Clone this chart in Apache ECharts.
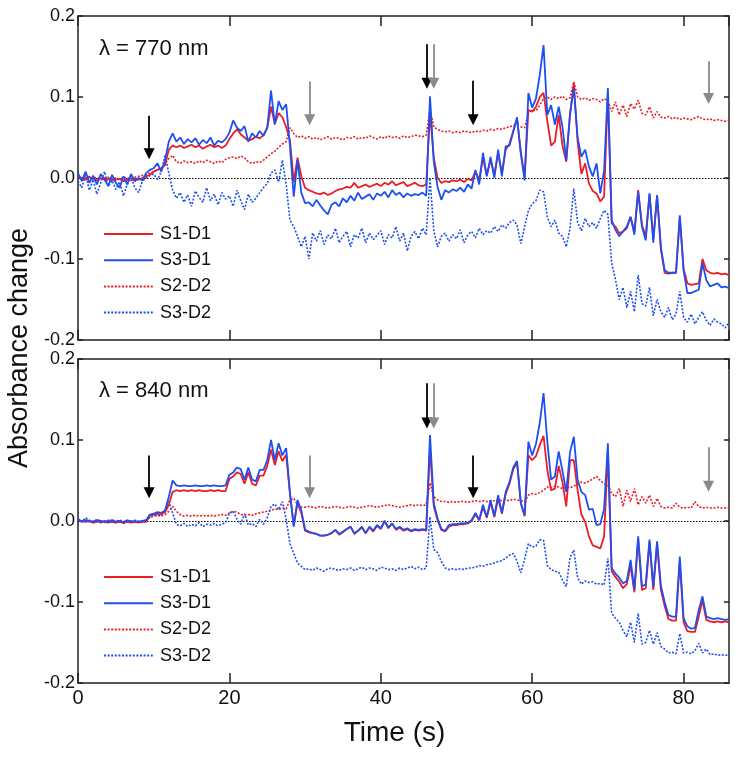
<!DOCTYPE html>
<html>
<head>
<meta charset="utf-8">
<script src="https://cdn.jsdelivr.net/npm/echarts@6/dist/echarts.min.js"></script>
<style>
html,body{margin:0;padding:0;background:#fff;}
#chart{width:738px;height:757px;}
</style>
</head>
<body>
<div id="chart"></div>
<script>
// Shared time axis (s)
const time = [
0,0.5,1,1.5,2,2.5,3,3.5,4,4.5,5,5.5,6,6.5,7,7.5,8,8.5,9,9.5,
10,10.5,11,11.5,12,12.5,13,13.5,14,14.5,15,15.5,16,16.5,17,17.5,18,18.5,19,19.5,
20,20.5,21,21.5,22,22.5,23,23.5,24,24.5,25,25.5,26,26.5,27,27.5,28,28.5,29,29.5,
30,30.5,31,31.5,32,32.5,33,33.5,34,34.5,35,35.5,36,36.5,37,37.5,38,38.5,39,39.5,
40,40.5,41,41.5,42,42.5,43,43.5,44,44.5,45,45.5,46,46.5,47,47.5,48,48.5,49,49.5,
50,50.5,51,51.5,52,52.5,53,53.5,54,54.5,55,55.5,56,56.5,57,57.5,58,58.5,59,59.5,
60,60.5,61,61.5,62,62.5,63,63.5,64,64.5,65,65.5,66,66.5,67,67.5,68,68.5,69,69.5,
70,70.5,71,71.5,72,72.5,73,73.5,74,74.5,75,75.5,76,76.5,77,77.5,78,78.5,79,79.5,
80,80.5,81,81.5,82,82.5,83,83.5,84,84.5,85,85.5,86];

// ---- lambda = 770 nm (top panel) ----
const top_S1D1 = [
0.002,0.000,-0.002,0.001,-0.001,-0.003,0.000,-0.002,-0.001,-0.003,
-0.002,-0.001,-0.004,-0.002,-0.003,-0.001,-0.002,0.000,0.002,0.004,
0.008,0.010,0.012,0.016,0.035,0.040,0.038,0.040,0.037,0.039,
0.041,0.038,0.040,0.036,0.039,0.041,0.038,0.040,0.037,0.040,
0.048,0.055,0.060,0.054,0.050,0.046,0.048,0.051,0.049,0.053,
0.062,0.088,0.067,0.080,0.075,0.063,0.047,-0.005,0.025,0.002,
-0.012,-0.015,-0.017,-0.019,-0.020,-0.018,-0.021,-0.019,-0.016,-0.014,
-0.013,-0.011,-0.012,-0.006,-0.012,-0.010,-0.008,-0.011,-0.009,-0.007,
-0.010,-0.006,-0.008,-0.004,-0.009,-0.007,-0.005,-0.010,-0.008,-0.006,
-0.009,-0.010,-0.008,0.080,0.025,0.000,-0.006,-0.004,-0.005,-0.003,
-0.004,-0.002,-0.005,-0.001,-0.003,0.008,-0.002,0.025,0.003,0.022,
0.004,0.030,0.006,0.035,0.042,0.058,0.073,0.032,0.001,0.084,
0.082,0.088,0.100,0.105,0.070,0.040,0.045,0.078,0.040,0.020,
0.078,0.117,0.045,0.005,0.018,-0.007,-0.016,-0.019,-0.029,-0.023,
0.105,-0.056,-0.060,-0.068,-0.066,-0.062,-0.048,-0.066,-0.015,-0.058,
-0.072,-0.020,-0.075,-0.022,-0.088,-0.117,-0.118,-0.117,-0.117,-0.048,
-0.112,-0.130,-0.132,-0.131,-0.130,-0.100,-0.114,-0.117,-0.118,-0.117,
-0.119,-0.118,-0.120];

const top_S3D1 = [
0.006,-0.004,0.008,-0.006,0.003,-0.008,0.005,-0.002,-0.010,0.004,
-0.006,-0.012,0.002,-0.008,0.005,-0.004,0.000,-0.003,0.006,0.010,
0.012,0.018,0.008,0.022,0.045,0.055,0.045,0.050,0.042,0.048,
0.044,0.049,0.041,0.047,0.043,0.050,0.040,0.046,0.044,0.048,
0.056,0.071,0.062,0.058,0.064,0.045,0.055,0.050,0.058,0.052,
0.062,0.108,0.066,0.095,0.084,0.091,0.039,-0.023,0.022,-0.018,
-0.031,-0.030,-0.035,-0.027,-0.034,-0.040,-0.045,-0.033,-0.030,-0.035,
-0.025,-0.030,-0.022,-0.028,-0.018,-0.026,-0.023,-0.020,-0.027,-0.019,
-0.022,-0.017,-0.024,-0.015,-0.021,-0.018,-0.024,-0.019,-0.022,-0.020,
-0.021,-0.018,-0.022,0.101,0.020,-0.011,-0.027,-0.015,-0.018,-0.014,
-0.016,-0.012,-0.017,-0.008,-0.013,0.010,-0.008,0.031,0.002,0.026,
0.000,0.035,0.002,0.039,0.040,0.057,0.075,0.030,-0.003,0.105,
0.087,0.098,0.127,0.164,0.078,0.090,0.066,0.088,0.063,0.022,
0.080,0.111,0.050,0.026,0.035,0.014,0.002,0.018,-0.019,0.009,
0.111,-0.052,-0.064,-0.072,-0.066,-0.060,-0.048,-0.070,-0.017,-0.060,
-0.077,-0.019,-0.080,-0.021,-0.085,-0.114,-0.117,-0.117,-0.117,-0.046,
-0.114,-0.142,-0.142,-0.140,-0.138,-0.105,-0.126,-0.134,-0.132,-0.130,
-0.135,-0.134,-0.136];

const top_S2D2 = [
0.001,-0.001,0.000,0.002,-0.001,0.001,-0.002,0.000,0.001,-0.001,
0.000,-0.002,0.001,0.000,-0.001,0.001,0.002,0.003,0.004,0.006,
0.008,0.010,0.012,0.018,0.024,0.028,0.020,0.018,0.021,0.019,
0.020,0.018,0.021,0.019,0.022,0.020,0.018,0.021,0.019,0.023,
0.025,0.026,0.024,0.027,0.025,0.020,0.018,0.020,0.019,0.022,
0.026,0.030,0.033,0.038,0.042,0.045,0.062,0.055,0.050,0.052,
0.049,0.051,0.048,0.050,0.047,0.049,0.051,0.048,0.050,0.049,
0.047,0.050,0.049,0.051,0.048,0.050,0.049,0.052,0.050,0.048,
0.051,0.049,0.052,0.050,0.051,0.049,0.052,0.050,0.051,0.053,
0.052,0.051,0.053,0.085,0.063,0.060,0.058,0.057,0.058,0.056,
0.057,0.056,0.058,0.057,0.056,0.058,0.057,0.059,0.058,0.060,
0.059,0.061,0.060,0.062,0.063,0.065,0.064,0.063,0.062,0.080,
0.084,0.083,0.090,0.098,0.100,0.097,0.100,0.098,0.101,0.097,
0.099,0.119,0.100,0.097,0.099,0.096,0.098,0.097,0.094,0.098,
0.095,0.082,0.094,0.078,0.090,0.076,0.092,0.085,0.096,0.080,
0.078,0.088,0.074,0.082,0.075,0.074,0.076,0.073,0.075,0.072,
0.074,0.073,0.072,0.074,0.076,0.073,0.072,0.073,0.071,0.072,
0.071,0.070,0.071];

const top_S3D2 = [
-0.004,-0.012,0.005,-0.015,-0.002,-0.020,-0.006,0.008,-0.010,-0.003,
-0.014,-0.005,-0.022,-0.008,0.002,-0.012,-0.018,-0.004,0.000,0.003,
0.005,-0.002,0.008,0.028,0.006,-0.015,-0.025,-0.018,-0.030,-0.021,
-0.035,-0.016,-0.024,-0.030,-0.012,-0.028,-0.020,-0.033,-0.018,-0.026,
-0.022,-0.035,-0.015,-0.028,-0.039,-0.020,-0.030,-0.025,-0.018,-0.012,
-0.007,0.006,0.010,-0.005,0.022,-0.008,-0.052,-0.060,-0.072,-0.085,
-0.072,-0.100,-0.068,-0.078,-0.065,-0.082,-0.070,-0.075,-0.062,-0.080,
-0.072,-0.066,-0.085,-0.070,-0.074,-0.062,-0.080,-0.068,-0.076,-0.071,
-0.065,-0.082,-0.070,-0.074,-0.060,-0.078,-0.068,-0.090,-0.072,-0.066,
-0.075,-0.062,-0.070,0.000,-0.065,-0.085,-0.072,-0.068,-0.078,-0.070,
-0.075,-0.064,-0.080,-0.070,-0.066,-0.074,-0.062,-0.070,-0.065,-0.068,
-0.060,-0.066,-0.058,-0.062,-0.055,-0.052,-0.058,-0.081,-0.060,-0.040,
-0.032,-0.028,-0.015,-0.017,-0.048,-0.060,-0.052,-0.068,-0.072,-0.085,
-0.062,-0.013,-0.055,-0.065,-0.050,-0.060,-0.055,-0.062,-0.050,-0.040,
-0.045,-0.105,-0.125,-0.150,-0.135,-0.160,-0.140,-0.165,-0.120,-0.155,
-0.158,-0.135,-0.170,-0.150,-0.165,-0.172,-0.160,-0.175,-0.168,-0.140,
-0.172,-0.178,-0.168,-0.180,-0.172,-0.165,-0.176,-0.182,-0.174,-0.178,
-0.180,-0.185,-0.178];

// ---- lambda = 840 nm (bottom panel) ----
const bot_S1D1 = [
0.001,0.000,-0.001,0.000,-0.002,-0.001,0.000,-0.001,-0.002,-0.001,
-0.002,-0.001,-0.002,-0.001,-0.002,-0.001,-0.002,-0.001,-0.001,0.007,
0.008,0.009,0.008,0.011,0.020,0.036,0.038,0.037,0.038,0.037,
0.038,0.037,0.038,0.037,0.037,0.038,0.037,0.038,0.037,0.037,
0.052,0.055,0.060,0.058,0.046,0.060,0.046,0.044,0.056,0.056,
0.068,0.088,0.069,0.086,0.074,0.082,0.034,-0.005,0.022,0.010,
-0.012,-0.014,-0.015,-0.016,-0.018,-0.018,-0.017,-0.015,-0.011,-0.017,
-0.014,-0.010,-0.007,-0.016,-0.012,-0.008,-0.015,-0.008,-0.013,-0.006,
-0.010,0.000,-0.009,-0.003,-0.011,-0.008,-0.012,-0.010,-0.013,-0.011,
-0.012,-0.011,-0.012,0.090,0.018,0.001,-0.011,-0.013,-0.007,-0.005,
-0.005,-0.004,-0.004,-0.003,0.000,0.008,0.001,0.017,0.004,0.023,
0.005,0.028,0.009,0.033,0.046,0.064,0.072,0.022,0.006,0.081,
0.075,0.080,0.094,0.105,0.063,0.038,0.040,0.068,0.048,0.018,
0.075,0.075,0.038,0.008,-0.001,-0.019,-0.030,-0.032,-0.034,-0.019,
0.085,-0.062,-0.069,-0.075,-0.083,-0.078,-0.055,-0.088,-0.022,-0.085,
-0.083,-0.026,-0.085,-0.028,-0.085,-0.105,-0.121,-0.123,-0.123,-0.050,
-0.125,-0.136,-0.137,-0.137,-0.118,-0.098,-0.122,-0.124,-0.125,-0.124,
-0.125,-0.124,-0.125];

const bot_S3D1 = [
0.002,-0.001,0.001,0.000,-0.001,0.001,-0.002,0.000,-0.001,0.001,
-0.001,0.000,-0.002,0.001,-0.001,0.000,-0.001,0.000,0.001,0.008,
0.009,0.011,0.010,0.013,0.030,0.050,0.044,0.043,0.044,0.043,
0.043,0.044,0.043,0.043,0.044,0.043,0.044,0.043,0.043,0.044,
0.057,0.060,0.066,0.064,0.051,0.066,0.051,0.049,0.063,0.063,
0.075,0.100,0.075,0.096,0.081,0.090,0.034,-0.007,0.026,0.013,
-0.011,-0.013,-0.015,-0.016,-0.018,-0.018,-0.017,-0.015,-0.011,-0.016,
-0.013,-0.010,-0.007,-0.015,-0.012,-0.007,-0.015,-0.007,-0.012,-0.005,
-0.009,0.000,-0.008,-0.003,-0.010,-0.007,-0.011,-0.009,-0.012,-0.010,
-0.011,-0.010,-0.011,0.106,0.022,0.003,-0.010,-0.012,-0.005,-0.004,
-0.004,-0.003,-0.003,-0.002,0.001,0.010,0.001,0.020,0.005,0.026,
0.006,0.032,0.010,0.036,0.048,0.066,0.074,0.022,0.007,0.098,
0.081,0.095,0.121,0.158,0.098,0.051,0.055,0.086,0.062,0.036,
0.085,0.104,0.051,0.036,0.032,0.014,0.015,-0.005,-0.004,0.015,
0.096,-0.058,-0.065,-0.070,-0.077,-0.074,-0.048,-0.085,-0.019,-0.081,
-0.078,-0.023,-0.081,-0.025,-0.080,-0.100,-0.116,-0.118,-0.118,-0.044,
-0.120,-0.130,-0.133,-0.132,-0.110,-0.093,-0.118,-0.120,-0.121,-0.120,
-0.121,-0.122,-0.121];

const bot_S2D2 = [
0.001,0.000,0.001,-0.001,0.000,0.001,0.000,-0.001,0.000,0.001,
0.000,0.001,0.000,-0.001,0.000,0.001,0.000,0.000,0.001,0.004,
0.006,0.007,0.006,0.008,0.012,0.018,0.012,0.008,0.006,0.007,
0.006,0.007,0.006,0.007,0.006,0.007,0.006,0.007,0.008,0.007,
0.010,0.012,0.011,0.008,0.007,0.008,0.007,0.009,0.010,0.011,
0.012,0.013,0.015,0.014,0.016,0.015,0.026,0.028,0.020,0.017,
0.017,0.018,0.017,0.016,0.018,0.017,0.016,0.017,0.018,0.017,
0.016,0.017,0.018,0.017,0.016,0.017,0.018,0.019,0.018,0.017,
0.018,0.019,0.020,0.019,0.018,0.017,0.018,0.019,0.020,0.019,
0.020,0.019,0.020,0.047,0.030,0.026,0.024,0.024,0.023,0.024,
0.023,0.024,0.024,0.023,0.024,0.025,0.024,0.025,0.024,0.025,
0.025,0.026,0.025,0.026,0.025,0.027,0.026,0.025,0.024,0.032,
0.034,0.033,0.035,0.038,0.042,0.041,0.043,0.042,0.040,0.042,
0.041,0.043,0.046,0.048,0.047,0.049,0.052,0.055,0.050,0.046,
0.044,0.034,0.030,0.040,0.018,0.038,0.024,0.040,0.020,0.030,
0.022,0.032,0.018,0.028,0.018,0.016,0.017,0.016,0.022,0.017,
0.016,0.017,0.016,0.024,0.018,0.016,0.017,0.016,0.016,0.017,
0.016,0.016,0.017];

const bot_S3D2 = [
0.003,-0.001,0.004,0.001,-0.002,0.002,0.000,-0.002,0.001,-0.001,
-0.002,0.001,-0.003,-0.001,0.000,-0.002,-0.001,-0.002,0.000,0.005,
0.008,0.006,0.010,0.012,0.024,0.010,-0.004,-0.006,-0.003,-0.007,
-0.004,-0.006,-0.002,-0.007,-0.004,-0.005,-0.003,-0.006,-0.004,-0.002,
0.010,0.012,0.002,-0.004,0.009,-0.005,-0.003,-0.007,0.002,-0.004,
0.004,0.018,0.021,0.014,0.024,0.002,-0.028,-0.040,-0.052,-0.056,
-0.060,-0.059,-0.061,-0.058,-0.060,-0.062,-0.059,-0.058,-0.060,-0.061,
-0.059,-0.060,-0.058,-0.061,-0.059,-0.057,-0.060,-0.058,-0.059,-0.061,
-0.057,-0.058,-0.060,-0.059,-0.061,-0.058,-0.060,-0.058,-0.056,-0.059,
-0.057,-0.060,-0.058,0.005,-0.035,-0.039,-0.050,-0.058,-0.060,-0.059,
-0.060,-0.059,-0.060,-0.058,-0.058,-0.057,-0.055,-0.056,-0.054,-0.053,
-0.052,-0.050,-0.049,-0.046,-0.042,-0.040,-0.050,-0.064,-0.047,-0.028,
-0.032,-0.031,-0.023,-0.024,-0.055,-0.060,-0.062,-0.063,-0.073,-0.081,
-0.045,-0.036,-0.070,-0.078,-0.074,-0.076,-0.075,-0.078,-0.077,-0.079,
-0.046,-0.114,-0.120,-0.125,-0.135,-0.143,-0.125,-0.150,-0.114,-0.152,
-0.150,-0.135,-0.152,-0.138,-0.155,-0.158,-0.163,-0.162,-0.164,-0.139,
-0.163,-0.162,-0.164,-0.160,-0.151,-0.163,-0.158,-0.165,-0.164,-0.166,
-0.165,-0.166,-0.165];

// Arrow annotations (time, start value, tip value)
const arrowTimes = [9.4, 30.6, 46.1, 47.0, 52.2, 83.3];
const arrowGray  = [false, true, false, true, false, true];
const topArrowFrom = [0.077, 0.119, 0.165, 0.165, 0.120, 0.144];
const topArrowTo   = [0.030, 0.072, 0.117, 0.117, 0.072, 0.098];
const botArrowFrom = [0.081, 0.081, 0.170, 0.170, 0.081, 0.091];
const botArrowTo   = [0.035, 0.035, 0.121, 0.121, 0.035, 0.043];

const seriesNames = ['S1-D1', 'S3-D1', 'S2-D2', 'S3-D2'];
const RED = '#ec1c24';
const BLUE = '#1e4ff0';
const FONT = 'Liberation Sans, Arial, Helvetica, sans-serif';

const pairs = (vals) => time.map((t, i) => [t, vals[i]]);

function traces(xi, yi, s1, s3, s2, s3b) {
  const mk = (name, vals, color, dotted) => ({
    name, type: 'line', xAxisIndex: xi, yAxisIndex: yi,
    data: pairs(vals), showSymbol: false, symbol: 'none', animation: false,
    lineStyle: { color, width: dotted ? 1.6 : 1.8, type: dotted ? [2, 1.6] : 'solid' },
    itemStyle: { color }, z: dotted ? 3 : 4
  });
  return [
    mk('S2-D2', s2, RED, true),
    mk('S3-D2', s3b, BLUE, true),
    mk('S1-D1', s1, RED, false),
    mk('S3-D1', s3, BLUE, false)
  ];
}

function arrows(xi, yi, from, to) {
  return {
    type: 'lines', coordinateSystem: 'cartesian2d', xAxisIndex: xi, yAxisIndex: yi,
    symbol: ['none', 'triangle'], symbolSize: [7, 11], animation: false, silent: true, z: 6,
    data: arrowTimes.map((t, i) => ({
      coords: [[t, from[i]], [t, to[i]]],
      lineStyle: { color: arrowGray[i] ? '#8a8a8a' : '#000', width: 1.8, opacity: 1 }
    }))
  };
}

function zeroLine(xi, yi) {
  return {
    type: 'lines', coordinateSystem: 'cartesian2d', xAxisIndex: xi, yAxisIndex: yi,
    animation: false, silent: true, z: 2,
    lineStyle: { color: '#000', width: 1.2, type: [1.5, 1.5], opacity: 1 },
    data: [{ coords: [[0, 0], [86, 0]] }]
  };
}

const axisLineStyle = { show: true, onZero: false, lineStyle: { color: '#222', width: 1.5 } };

function xAx(gi, pos, labels, tickLen, extra) {
  return Object.assign({
    type: 'value', gridIndex: gi, position: pos, min: 0, max: 86, interval: 20,
    axisLine: axisLineStyle,
    axisTick: { show: true, inside: true, length: tickLen, lineStyle: { color: '#222', width: 1.5 } },
    axisLabel: { show: labels, color: '#111', fontSize: 20, fontFamily: FONT, margin: 5,
      showMaxLabel: false },
    splitLine: { show: false }
  }, extra || {});
}
function yAx(gi, pos, labels) {
  return {
    type: 'value', gridIndex: gi, position: pos, min: -0.2, max: 0.2, interval: 0.1,
    axisLine: axisLineStyle,
    axisTick: { show: true, inside: true, length: 5, lineStyle: { color: '#222', width: 1.5 } },
    axisLabel: { show: labels, color: '#111', fontSize: 18, fontFamily: FONT, margin: 3,
      formatter: (v) => v.toFixed(1) },
    splitLine: { show: false }
  };
}

function legendAt(top) {
  return {
    data: seriesNames, orient: 'vertical', left: 103, top, padding: 0,
    itemWidth: 49, itemHeight: 16, itemGap: 8.2, selectedMode: false,
    itemStyle: { opacity: 0 },
    textStyle: { fontSize: 18, color: '#111', fontFamily: FONT, padding: [0, 0, 0, 2] }
  };
}

const chart = echarts.init(document.getElementById('chart'), null, { renderer: 'canvas' });
chart.setOption({
  backgroundColor: '#fff',
  animation: false,
  grid: [
    { left: 78, top: 16, width: 651, height: 324 },
    { left: 78, top: 359, width: 651, height: 324 }
  ],
  xAxis: [
    xAx(0, 'bottom', false, 10),
    xAx(0, 'top', false, 10),
    xAx(1, 'bottom', true, 10, { name: 'Time (s)', nameLocation: 'middle', nameGap: 36,
      nameTextStyle: { fontSize: 28, color: '#111', fontFamily: FONT, padding: [0, 18, 0, 0] } }),
    xAx(1, 'top', false, 10)
  ],
  yAxis: [
    yAx(0, 'left', true),
    yAx(0, 'right', false),
    yAx(1, 'left', true),
    yAx(1, 'right', false)
  ],
  legend: [legendAt(225), legendAt(568)],
  graphic: [
    { type: 'text', left: 99, top: 38, style: { text: 'λ = 770 nm', font: '22px ' + FONT, fill: '#111' } },
    { type: 'text', left: 99, top: 380, style: { text: 'λ = 840 nm', font: '22px ' + FONT, fill: '#111' } },
    { type: 'text', x: 20, y: 348, rotation: Math.PI / 2,
      style: { text: 'Absorbance change', font: '27px ' + FONT, fill: '#111', textAlign: 'center', textVerticalAlign: 'middle' } }
  ],
  series: [
    zeroLine(0, 0),
    ...traces(0, 0, top_S1D1, top_S3D1, top_S2D2, top_S3D2),
    arrows(0, 0, topArrowFrom, topArrowTo),
    zeroLine(2, 2),
    ...traces(2, 2, bot_S1D1, bot_S3D1, bot_S2D2, bot_S3D2),
    arrows(2, 2, botArrowFrom, botArrowTo)
  ]
});
</script>
</body>
</html>
